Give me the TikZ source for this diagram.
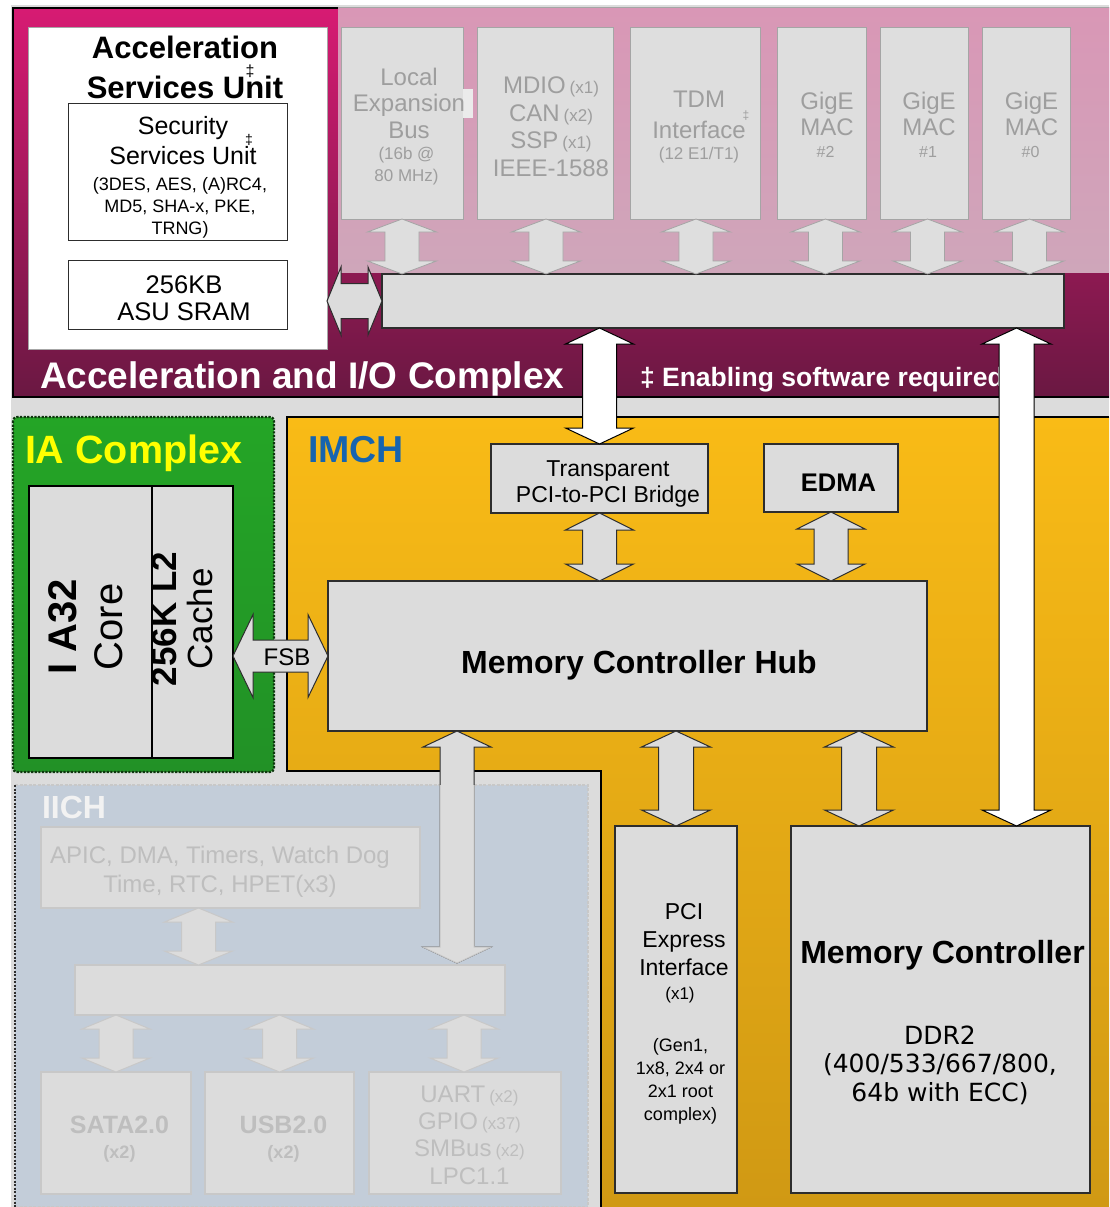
\documentclass[tikz,border=0pt]{standalone}
\usepackage{fontspec}
\setmainfont{Liberation Sans}
\newfontfamily\dvsans{DejaVu Sans}
\usetikzlibrary{calc}
\newcommand\fsz[2]{\fontsize{#1}{#2}\selectfont}
\definecolor{bggray}{RGB}{220,220,220}
\definecolor{boxline}{RGB}{45,45,45}
\definecolor{accTop}{RGB}{215,27,115}
\definecolor{accBot}{RGB}{106,24,66}
\definecolor{pinkTop}{RGB}{217,151,182}
\definecolor{pinkBot}{RGB}{207,166,186}
\definecolor{orTop}{RGB}{249,187,22}
\definecolor{orBot}{RGB}{208,153,20}
\definecolor{grTop}{RGB}{36,165,38}
\definecolor{grBot}{RGB}{34,145,38}
\definecolor{grLine}{RGB}{15,55,15}
\definecolor{perifill}{RGB}{222,222,222}
\definecolor{periline}{RGB}{165,165,165}
\definecolor{peritext}{RGB}{158,158,158}
\definecolor{iichfill}{RGB}{195,205,217}
\definecolor{iichline}{RGB}{200,200,200}
\definecolor{iichtext}{RGB}{190,190,190}
\definecolor{imchblue}{RGB}{22,100,175}
\definecolor{iayellow}{RGB}{255,255,0}

% vertical double block arrow: style, top tip, bottom tip, shaft half, head half, head length
\newcommand\blkV[6]{\draw[#1] let \p1=#2, \p2=#3 in
  (\x1,\y1) -- (\x1+#5,\y1-#6) -- (\x1+#4,\y1-#6) -- (\x1+#4,\y2+#6) -- (\x1+#5,\y2+#6)
  -- (\x1,\y2) -- (\x1-#5,\y2+#6) -- (\x1-#4,\y2+#6) -- (\x1-#4,\y1-#6) -- (\x1-#5,\y1-#6) -- cycle;}
% horizontal double block arrow: style, left tip, right tip, shaft half, head half, head length
\newcommand\blkH[6]{\draw[#1] let \p1=#2, \p2=#3 in
  (\x1,\y1) -- (\x1+#6,\y1+#5) -- (\x1+#6,\y1+#4) -- (\x2-#6,\y1+#4) -- (\x2-#6,\y1+#5)
  -- (\x2,\y1) -- (\x2-#6,\y1-#5) -- (\x2-#6,\y1-#4) -- (\x1+#6,\y1-#4) -- (\x1+#6,\y1-#5) -- cycle;}
\newcommand\bx[6][]{\node[#1,anchor=north west,minimum width={#5-#3},minimum height={#6-#4}] (#2) at (#3,#4) {};}

\begin{document}
\begin{tikzpicture}[x=1pt,y=-1pt,
  txt/.style={inner sep=0pt,outer sep=0pt,align=center},
  darkbox/.style={fill=bggray,draw=boxline,line width=1.2pt,inner sep=0pt,outer sep=0pt},
  whitebox/.style={fill=white,draw=boxline,line width=1pt,inner sep=0pt,outer sep=0pt},
  peribox/.style={fill=perifill,draw=periline,line width=1pt,inner sep=0pt,outer sep=0pt},
  iichbox/.style={fill=bggray,draw=iichline,line width=1.2pt,inner sep=0pt,outer sep=0pt},
  darkarrow/.style={fill=bggray,draw=boxline,line width=1pt,line join=miter},
  whitearrow/.style={fill=white,draw=black,line width=1pt},
  periarrow/.style={fill=perifill,draw=periline,line width=0.8pt},
  iicharrow/.style={fill=bggray,draw=iichline,line width=1pt},
  peritxt/.style={txt,text=peritext},
  iichtxt/.style={txt,text=iichtext}]

\useasboundingbox (0,0) rectangle (1109,1207);
\fill[white] (0,0) rectangle (1109,1207);
\fill[bggray] (11,5) rectangle (1109,1207);

% ---------------- Acceleration and I/O complex
\shade[top color=accTop,bottom color=accBot] (13,8) rectangle (1109,397);
\shade[top color=pinkTop,bottom color=pinkBot] (338,8) rectangle (1109,272);
\draw[black,line width=1.5pt] (338,8) -- (13,8) -- (13,397) -- (1109,397);
\draw[periline,line width=1pt] (338,8) -- (1109,8);

\bx[fill=white,draw=gray!70,line width=1pt,inner sep=0pt,outer sep=0pt]{asu}{28}{28}{327}{349}
\bx[whitebox]{ssu}{68}{103}{287}{240}
\bx[whitebox]{sram}{68}{260}{287}{329}

\node[txt,font=\bfseries\fsz{31}{40}] at (185,67) {Acceleration\\Services Unit};
\node[txt,font=\fsz{16}{18}] at (250,71) {‡};
\node[txt,font=\fsz{25}{30}] at (183,141) {Security\\Services Unit};
\node[txt,font=\fsz{14}{16}] at (249,140) {‡};
\node[txt,font=\fsz{18}{22}] at (180,207.5) {(3DES, AES, (A)RC4,\\MD5, SHA-x, PKE,\\TRNG)};
\node[txt,font=\fsz{25.5}{27}] at (184,298.5) {256KB\\ASU SRAM};

% peripherals
\bx[peribox]{lexp}{341}{28}{463}{219}
\fill[perifill!60!white] (463,89) rectangle (473,118);
\bx[peribox]{mdio}{477}{28}{613}{219}
\bx[peribox]{tdm}{630}{28}{760}{219}
\bx[peribox]{gige2}{777}{28}{866}{219}
\bx[peribox]{gige1}{880}{28}{968}{219}
\bx[peribox]{gige0}{982}{28}{1070}{219}

\node[peritxt,font=\fsz{24}{26.5}] at (409,103) {Local\\Expansion\\Bus};
\node[peritxt,font=\fsz{17}{22}] at (406.5,166.5) {(16b @\\80 MHz)};
\node[peritxt,font=\fsz{24}{27.5}] at (551,126.5)
  {MDIO\,{\fsz{17}{20}(x1)}\\CAN\,{\fsz{17}{20}(x2)}\\SSP\,{\fsz{17}{20}(x1)}\\IEEE-1588};
\node[peritxt,font=\fsz{24}{31}] at (699,114.5) {TDM\\Interface};
\node[peritxt,font=\fsz{12}{14}] at (746,116) {‡};
\node[peritxt,font=\fsz{17}{20}] at (699,155) {(12 E1/T1)};
\node[peritxt,font=\fsz{24}{26.5}] at (827,114) {GigE\\MAC};
\node[peritxt,font=\fsz{16}{18}] at (825.5,152) {\#2};
\node[peritxt,font=\fsz{24}{26.5}] at (929,114) {GigE\\MAC};
\node[peritxt,font=\fsz{16}{18}] at (928,152) {\#1};
\node[peritxt,font=\fsz{24}{26.5}] at (1031.5,114) {GigE\\MAC};
\node[peritxt,font=\fsz{16}{18}] at (1030.5,152) {\#0};

\bx[darkbox]{bus}{382}{274}{1064}{328}

\blkV{periarrow}{(lexp.south)}{(bus.north)}{17}{34.5}{13}
\blkV{periarrow}{([xshift=1pt]mdio.south)}{(bus.north)}{17}{34.5}{13}
\blkV{periarrow}{([xshift=1pt]tdm.south)}{(bus.north)}{17}{34.5}{13}
\blkV{periarrow}{([xshift=4pt]gige2.south)}{(bus.north)}{17}{34.5}{13}
\blkV{periarrow}{([xshift=3.5pt]gige1.south)}{(bus.north)}{17}{34.5}{13}
\blkV{periarrow}{([xshift=3.5pt]gige0.south)}{(bus.north)}{17}{34.5}{13}
\blkH{darkarrow}{(asu.east |- bus.west)}{(bus.west)}{17.5}{34}{14}

\node[txt,anchor=base west,text=white,font=\bfseries\fsz{37}{40}] at (40,388) {Acceleration and I/O Complex};
\node[txt,anchor=base west,text=white,font=\bfseries\fsz{26.5}{28}] at (640,386) {‡ Enabling software required};

% ---------------- IA complex
\shade[top color=grTop,bottom color=grBot,rounded corners=4pt] (13,417) rectangle (274,772);
\draw[grLine,line width=2.2pt,dash pattern=on 2.2pt off 1.4pt,rounded corners=4pt] (13,417) rectangle (274,772);
\node[txt,anchor=base west,text=iayellow,font=\bfseries\fsz{39.5}{42}] at (25,463) {IA Complex};
\bx[darkbox,draw=black]{core}{29}{486}{152}{758}
\bx[darkbox,draw=black]{cache}{152}{486}{233}{758}
\node[txt,rotate=90,font=\fsz{40}{46}] at (85.5,627) {\textbf{I A32}\\Core};
\node[txt,rotate=90,font=\fsz{35}{36}] at (182.5,619) {\textbf{256K L2}\\Cache};

% ---------------- IMCH
\shade[top color=orTop,bottom color=orBot] (287,417) -- (1109,417) -- (1109,1207) -- (601,1207) -- (601,771) -- (287,771) -- cycle;
\draw[black,line width=1.5pt] (1109,417) -- (287,417) -- (287,771) -- (601,771) -- (601,1207);
\node[txt,anchor=base west,text=imchblue,font=\bfseries\fsz{37.5}{40}] at (308,462) {IMCH};

\bx[darkbox]{bridge}{491}{444}{708}{513}
\bx[darkbox]{edma}{764}{444}{898}{512}
\bx[darkbox]{mch}{328}{581}{927}{731}
\bx[darkbox]{pcie}{615}{826}{737}{1193}
\bx[darkbox]{mc}{791}{826}{1090}{1193}

\node[txt,font=\fsz{23}{26}] at (608,483.5) {Transparent\\PCI-to-PCI Bridge};
\node[txt,font=\bfseries\fsz{25.5}{28}] at (838.5,483) {EDMA};
\node[txt,anchor=base,font=\bfseries\fsz{32}{34}] at (639,673) {Memory Controller Hub};
\node[txt,font=\fsz{23}{28}] at (684,939.5) {PCI\\Express\\Interface};
\node[txt,font=\fsz{17}{20}] at (680,995.5) {(x1)};
\node[txt,font=\fsz{18}{23}] at (680.5,1081.5) {(Gen1,\\1x8, 2x4 or\\2x1 root\\complex)};
\node[txt,anchor=base,font=\bfseries\fsz{32}{34}] at (942.5,963) {Memory Controller};
\node[txt,font=\dvsans\fsz{25}{28.5}] at (940,1065) {DDR2\\(400/533/667/800,\\64b with ECC)};

\blkV{darkarrow}{(bridge.south)}{(mch.north)}{17}{34}{17}
\blkV{darkarrow}{(edma.south)}{(mch.north)}{17}{34}{17}
\blkV{darkarrow}{(mch.south -| pcie.north)}{(pcie.north)}{17.5}{34.5}{16}
\coordinate (mcport) at (859,826);
\blkV{darkarrow}{(mch.south -| mcport)}{(mcport)}{17.5}{34.5}{16}
\blkH{darkarrow}{(cache.east |- mch.west)}{(mch.west)}{16}{41.5}{20}
\node[txt,font=\fsz{24}{26}] at (287,657) {FSB};

% ---------------- IICH
\fill[iichfill] (15,785) rectangle (588,1207);
\draw[iichline,line width=1.5pt,dash pattern=on 3pt off 1.5pt] (15,1207) -- (588,1207);
\draw[iichline,line width=1.5pt,dash pattern=on 3pt off 1.5pt] (15,785) -- (588,785) -- (588,1207);
\draw[boxline,line width=1.5pt,dash pattern=on 2pt off 1.5pt] (15,785) -- (15,1207);
\node[txt,anchor=base west,text=white!90!gray,font=\bfseries\fsz{32}{34}] at (42,818) {IICH};

\bx[iichbox]{apic}{41}{827}{420}{908}
\bx[iichbox]{ibus}{75}{965}{505}{1015}
\bx[iichbox]{sata}{41}{1072}{191}{1194}
\bx[iichbox]{usb}{205}{1072}{354}{1194}
\bx[iichbox]{uart}{369}{1072}{561}{1194}

\node[iichtxt,font=\fsz{24}{29}] at (220,872) {APIC, DMA, Timers, Watch Dog\\Time, RTC, HPET(x3)};
\node[iichtxt,font=\bfseries\fsz{25}{25}] at (119.5,1139) {SATA2.0\\{\fsz{18}{20}(x2)}};
\node[iichtxt,font=\bfseries\fsz{25}{25}] at (283.5,1139) {USB2.0\\{\fsz{18}{20}(x2)}};
\node[iichtxt,font=\fsz{24}{27.3}] at (469.5,1135)
  {UART\,{\fsz{17}{20}(x2)}\\GPIO\,{\fsz{17}{20}(x37)}\\SMBus\,{\fsz{17}{20}(x2)}\\LPC1.1};

\coordinate (apport) at (198.5,908);
\blkV{iicharrow}{(apport)}{(ibus.north)}{17}{34}{14}
\blkV{iicharrow}{(ibus.south -| sata.north)}{(sata.north)}{17}{34}{14}
\blkV{iicharrow}{(ibus.south -| usb.north)}{(usb.north)}{17}{34}{14}
\blkV{iicharrow}{([xshift=-1pt]ibus.south -| uart.north)}{(uart.north)}{17}{34}{14}

% MCH to IICH bus (faded inside IICH)
\coordinate (iport) at (457,963);
\blkV{darkarrow}{(mch.south -| iport)}{(iport)}{17}{34}{16}
\begin{scope}
  \clip (15,785) rectangle (588,1207);
  \blkV{iicharrow}{(mch.south -| iport)}{(iport)}{17}{34}{16}
\end{scope}

% white arrows
\blkV{whitearrow}{(bus.south -| bridge.north)}{(bridge.north)}{17}{34}{16}
\coordinate (mcw) at (1016.5,826);
\blkV{whitearrow}{(bus.south -| mcw)}{(mcw)}{17.5}{34.5}{16}
\end{tikzpicture}
\end{document}
